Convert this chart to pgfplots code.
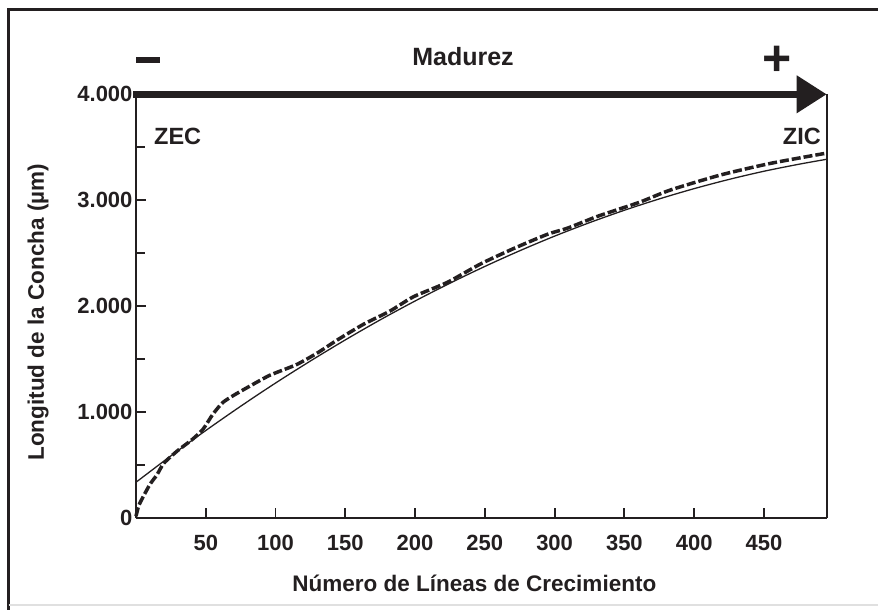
\documentclass[border=0pt]{standalone}
\usepackage{pgfplots}
\pgfplotsset{compat=1.18}
\usepackage{fontspec}
\setmainfont{Liberation Sans}
\usetikzlibrary{arrows.meta}
\definecolor{ink}{RGB}{35,31,32}
\begin{document}
\begin{tikzpicture}
\path[use as bounding box] (0,0) rectangle (878pt,610pt);
\draw[ink, line width=3pt] (8.5pt,0pt) -- (8.5pt,600.5pt) -- (878pt,600.5pt);
\draw[black!12, line width=1.5pt] (8.5pt,5pt) -- (878pt,5pt);
\begin{axis}[
  at={(136pt,91.7pt)}, anchor=south west,
  scale only axis, width=690.7pt, height=424pt,
  xmin=0, xmax=495, ymin=0, ymax=4000,
  axis x line*=bottom, axis y line*=left,
  axis line style={ink, line width=2pt},
  tick align=inside,
  tick style={ink, line width=1.8pt},
  major tick length=10pt, minor tick length=9pt,
  xtick={50,100,150,200,250,300,350,400,450},
  xticklabels={50,100,150,200,250,300,350,400,450},
  ytick={0,1000,2000,3000,4000},
  yticklabels={0,1.000,2.000,3.000,4.000},
  minor ytick={500,1500,2500,3500},
  ticklabel style={font=\fontsize{22}{22}\selectfont\bfseries, text=ink},
  xticklabel style={anchor=base, yshift=-32pt},
  xlabel={Número de Líneas de Crecimiento},
  ylabel={Longitud de la Concha (µm)},
  label style={font=\fontsize{22.5}{22.5}\selectfont\bfseries, text=ink},
  xlabel style={at={(axis description cs:0.5,0)}, anchor=base, yshift=-73.7pt, xshift=-7pt},
  ylabel style={at={(axis description cs:0,0.5)}, anchor=center, yshift=98pt, xshift=-6pt},
  clip=false,
]
\addplot[ink, line width=1.3pt, smooth] coordinates {
(0,340) (25,589) (50,828) (75,1057) (100,1276) (125,1484) (150,1683) (175,1872)
(200,2050) (225,2218) (250,2376) (275,2524) (300,2662) (325,2789) (350,2906)
(375,3013) (400,3110) (425,3197) (450,3274) (475,3340) (495,3387)
};
\addplot[ink, line width=3.5pt, dash pattern=on 9pt off 3pt, smooth, tension=0.4] coordinates {
(0,20) (2,120) (5,200) (10,320) (15,410) (20,520) (30,640) (40,740) (48,840)
(55,980) (62,1090) (70,1160) (82,1250) (96,1350) (115,1450) (130,1560) (144,1680)
(163,1830) (182,1955) (199,2091) (223,2225) (247,2400) (271,2547) (295,2680)
(309,2736) (330,2845) (347,2920) (362,2987) (383,3097) (419,3239) (455,3349) (494,3443)
};
\draw[ink, line width=2pt] (axis cs:495,0) -- (axis cs:495,4000);
\draw[ink, line width=7pt, -{Triangle[length=30pt,width=36pt]}] (axis cs:-2,4000) -- (axis cs:495,4000);
\end{axis}
\node[ink, font=\fontsize{25}{25}\selectfont\bfseries] at (463pt,553pt) {Madurez};
\node[ink, inner sep=0pt] at (148pt,550pt) {\rule{24pt}{5.5pt}};
\node[ink, font=\fontsize{50}{50}\selectfont\bfseries] at (777pt,549pt) {+};
\node[ink, font=\fontsize{23.5}{23.5}\selectfont\bfseries, anchor=west, inner sep=0pt] at (154pt,474pt) {ZEC};
\node[ink, font=\fontsize{23.5}{23.5}\selectfont\bfseries, anchor=east, inner sep=0pt] at (821pt,474pt) {ZIC};
\end{tikzpicture}
\end{document}
